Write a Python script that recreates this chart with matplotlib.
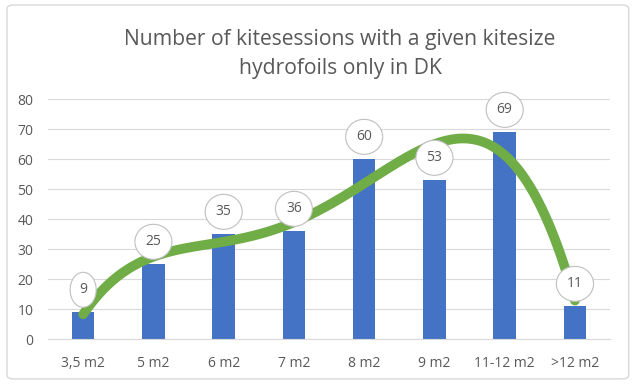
import numpy as np
import matplotlib.pyplot as plt
from matplotlib.patches import FancyBboxPatch
from matplotlib.path import Path
from matplotlib.transforms import Affine2D

# data
sizes = ["3,5 m2", "5 m2", "6 m2", "7 m2", "8 m2", "9 m2", "11-12 m2", ">12 m2"]
sessions = [9, 25, 35, 36, 60, 53, 69, 11]
trend_degree = 4  # Excel polynomial trendline, order 4

bar_color = "#4472C4"
trend_color = "#70AD47"
text_color = "#595959"
grid_color = "#D9D9D9"

plt.rcParams["font.family"] = ["Open Sans", "DejaVu Sans"]


def ellipse_box(x0, y0, width, height, mutation_size):
    """Ellipse around a data label, roughly like Excel's callout shape."""
    n = width / (0.57 * mutation_size)  # about the number of digits
    w = 11 * n + 15
    h = 35
    cx, cy = x0 + width / 2, y0 + height / 2
    return Path.unit_circle().transformed(
        Affine2D().scale(w / 2, h / 2).translate(cx, cy))


fig = plt.figure(figsize=(6.37, 3.87), dpi=100)
ax = fig.add_axes([0.0754, 0.124, 0.8823, 0.62])

x = np.arange(1, len(sizes) + 1)
ax.bar(x, sessions, width=0.32, color=bar_color, zorder=2)

coef = np.polyfit(x, sessions, trend_degree)
xs = np.linspace(x[0], x[-1], 300)
ax.plot(xs, np.polyval(coef, xs), color=trend_color, lw=7,
        solid_capstyle="round", zorder=3)

for xi, v in zip(x, sessions):
    ax.annotate(str(v), (xi, v), xytext=(0, 16), textcoords="offset points",
                ha="center", va="center", fontsize=10, color=text_color,
                zorder=4,
                bbox=dict(boxstyle=ellipse_box, fc="white",
                          ec="#BFBFBF", lw=0.8))

ax.set_xlim(0.5, len(sizes) + 0.5)
ax.set_ylim(0, 80)
ax.set_yticks(range(0, 81, 10))
ax.set_xticks(x)
ax.set_xticklabels(sizes)
ax.yaxis.grid(True, color=grid_color, lw=0.8, zorder=0)
ax.set_axisbelow(True)
for s in ["top", "right", "left"]:
    ax.spines[s].set_visible(False)
ax.spines["bottom"].set_color(grid_color)
ax.tick_params(length=0, labelsize=10, colors=text_color)
ax.tick_params(axis="x", pad=12)
ax.tick_params(axis="y", pad=10.5)

fig.text(0.534, 0.86, "Number of kitesessions with a given kitesize\nhydrofoils only in DK",
         ha="center", va="center", fontsize=15.2, color=text_color, linespacing=1.5)

# rounded chart border
fig.patches.append(FancyBboxPatch((0.011, 0.021), 0.976, 0.966,
                                  boxstyle="round,pad=0,rounding_size=0.01",
                                  transform=fig.transFigure, fc="none",
                                  ec=grid_color, lw=1))

fig.savefig("out.png", dpi=100)
